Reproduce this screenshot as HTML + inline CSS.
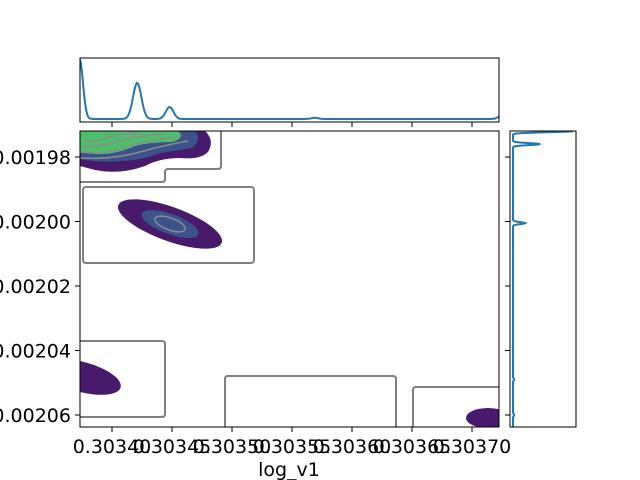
<!DOCTYPE html>
<html><head><meta charset="utf-8"><style>
body{margin:0;background:#fff}
svg{display:block;font-family:"DejaVu Sans","Liberation Sans",sans-serif}
</style></head><body>
<svg id="chart" width="640" height="480" viewBox="0 0 640 480">
<defs>
<clipPath id="mainclip"><rect x="80" y="131" width="419" height="296"/></clipPath>
<clipPath id="topclip"><rect x="80" y="58" width="419" height="64"/></clipPath>
<clipPath id="rightclip"><rect x="510" y="131" width="66" height="296"/></clipPath>
</defs>
<g id="main" clip-path="url(#mainclip)">
  <path fill="#481a6c" d="M80,131 L205,131 Q215,140 208,152 Q200,160 180,158 Q160,158 145,166 Q120,175 95,170 L80,166 Z"/>
  <path fill="#3b528b" d="M80,131 L195,131 Q202,140 192,148 Q175,151 160,153 Q140,161 120,161 Q100,163 80,159 Z"/>
  <path fill="#4cbf6b" d="M80,131 L178,131 Q186,138 172,142 Q150,142 135,146 Q115,155 95,154 L80,152 Z"/>
  <g fill="none" stroke="#8c8c8c" stroke-width="1.5">
    <path d="M80,158 Q110,160 140,152 Q165,145 188,141"/>
    <path d="M80,152 Q105,155 130,146 Q150,140 178,137"/>
    <path d="M82,146 Q100,148 115,142 Q135,136 165,134"/>
    <path d="M84,140 Q95,143 105,138 Q115,134 140,133"/>
  </g>
  <ellipse cx="170" cy="224" rx="55" ry="17" transform="rotate(20 170 224)" fill="#481a6c"/>
  <ellipse cx="170" cy="224" rx="30" ry="10" transform="rotate(20 170 224)" fill="#3b528b"/>
  <ellipse cx="170" cy="224" rx="16" ry="6" transform="rotate(20 170 224)" fill="none" stroke="#8c8c8c" stroke-width="1.5"/>
  <ellipse cx="82" cy="377" rx="40" ry="15" transform="rotate(15 82 377)" fill="#481a6c"/>
  <ellipse cx="488" cy="418" rx="22" ry="10" fill="#481a6c"/>
  <g fill="none" stroke="#808080" stroke-width="2">
    <path d="M80,182 L162,182 Q165,182 165,179 L165,172 Q165,169 168,169 L218,169 Q221,169 221,166 L221,125"/>
    <rect x="83" y="187" width="171" height="76" rx="3"/>
    <path d="M75,341 L162,341 Q165,341 165,344 L165,414 Q165,417 162,417 L75,417"/>
    <path d="M225,432 L225,379 Q225,376 228,376 L393,376 Q396,376 396,379 L396,432"/>
    <path d="M413,432 L413,390 Q413,387 416,387 L505,387"/>
  </g>
</g>
<rect x="80" y="131" width="419" height="296" fill="none" stroke="#000" stroke-width="1"/>
<g id="xticks"></g>
<g id="yticks"></g>
<text x="289" y="476" font-size="19" text-anchor="middle">log_v1</text>
<g clip-path="url(#topclip)"><path id="topline" fill="none" stroke="#1f77b4" stroke-width="2"/></g>
<rect x="80" y="58" width="419" height="64" fill="none" stroke="#000"/>
<g clip-path="url(#rightclip)"><path id="rightline" fill="none" stroke="#1f77b4" stroke-width="2"/></g>
<rect x="510" y="131" width="66" height="296" fill="none" stroke="#000"/>
</svg>
<script>
const xTicks=[0.30340,0.30345,0.30350,0.30355,0.30360,0.30365,0.30370];
const xTickLabels=["0.30340","0.30345","0.30350","0.30355","0.30360","0.30365","0.30370"];
const yTicks=[-0.00198,-0.00200,-0.00202,-0.00204,-0.00206];
const yTickLabels=["-0.00198","-0.00200","-0.00202","-0.00204","-0.00206"];
const topPeakX=[0.303373,0.303421,0.303448,0.303569,0.303725];
const topPeakH=[1.0,0.6,0.2,0.02,0.06];
const topPeakW=[0.0000028,0.0000035,0.0000032,0.000003,0.000003];
const rightPeakY=[-0.001972,-0.001976,-0.0020005,-0.002049,-0.00206];
const rightPeakH=[1.0,0.45,0.2,0.02,0.02];
const rightPeakW=[0.0000003,0.0000003,0.0000003,0.0000003,0.0000003];
const NS="http://www.w3.org/2000/svg";
const xs=v=>112+(v-0.30340)/0.00005*60;
const ys=v=>157+(-0.00198-v)/0.00002*64.5;
const gx=document.getElementById('xticks'),gy=document.getElementById('yticks');
xTicks.forEach((t,i)=>{
  const x=xs(t);
  const l=document.createElementNS(NS,'line');
  l.setAttribute('x1',x);l.setAttribute('x2',x);l.setAttribute('y1',427);l.setAttribute('y2',432);l.setAttribute('stroke','#000');
  
  
  gx.appendChild(l);
  const l2=document.createElementNS(NS,'line');
  l2.setAttribute('x1',x);l2.setAttribute('x2',x);l2.setAttribute('y1',122);l2.setAttribute('y2',127);l2.setAttribute('stroke','#000');
  
  
  gx.appendChild(l2);
  const tx=document.createElementNS(NS,'text');
  tx.setAttribute('x',x);tx.setAttribute('y',453);tx.setAttribute('font-size','19');tx.setAttribute('text-anchor','middle');
  tx.textContent=xTickLabels[i];
  
  
  gx.appendChild(tx);
});
yTicks.forEach((t,i)=>{
  const y=ys(t);
  const l=document.createElementNS(NS,'line');
  l.setAttribute('x1',75);l.setAttribute('x2',80);l.setAttribute('y1',y);l.setAttribute('y2',y);l.setAttribute('stroke','#000');
  
  
  gy.appendChild(l);
  const l2=document.createElementNS(NS,'line');
  l2.setAttribute('x1',505);l2.setAttribute('x2',510);l2.setAttribute('y1',y);l2.setAttribute('y2',y);l2.setAttribute('stroke','#000');
  
  
  gy.appendChild(l2);
  const tx=document.createElementNS(NS,'text');
  tx.setAttribute('x',71);tx.setAttribute('y',y+7);tx.setAttribute('font-size','19');tx.setAttribute('text-anchor','end');
  tx.textContent=yTickLabels[i];
  
  
  gy.appendChild(tx);
});
let d='';
for(let px=80;px<=499;px+=1){
  const v=0.30340+(px-112)/60*0.00005;
  let s=0;topPeakX.forEach((c,i)=>{s+=topPeakH[i]*Math.exp(-0.5*((v-c)/topPeakW[i])**2);});
  const y=119-s*60;
  d+=(px===80?'M':'L')+px+','+y.toFixed(1);
}
document.getElementById('topline').setAttribute('d',d);
let d2='';
for(let py=131;py<=427;py+=0.5){
  const v=-0.00198-(py-157)/64.5*0.00002;
  let s=0;rightPeakY.forEach((c,i)=>{s+=rightPeakH[i]*Math.exp(-0.5*((v-c)/rightPeakW[i])**2);});
  const x=513+s*61;
  d2+=(py===131?'M':'L')+x.toFixed(1)+','+py;
}
document.getElementById('rightline').setAttribute('d',d2);
</script>
</body></html>
